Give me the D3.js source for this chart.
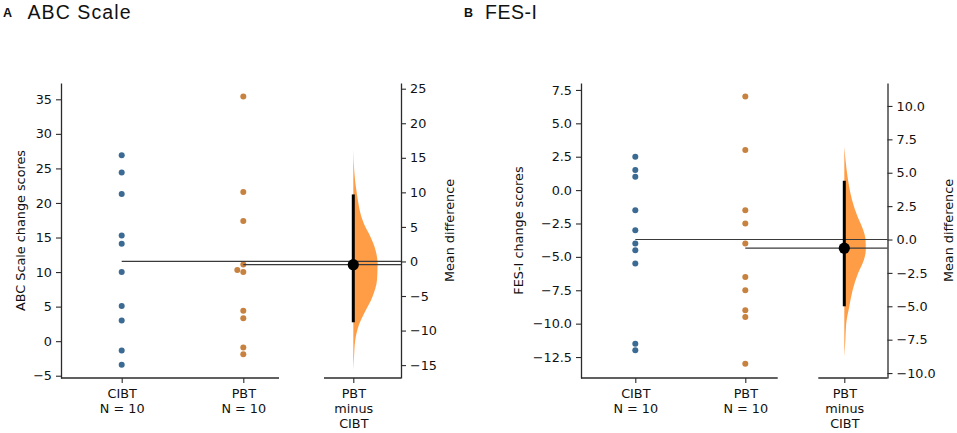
<!DOCTYPE html>
<html>
<head>
<meta charset="utf-8">
<script src="https://cdn.jsdelivr.net/npm/d3@7"></script>
<style>
  body { margin: 0; background: #fff; }
  svg text { font-family: "DejaVu Sans", sans-serif; fill: #111; }
</style>
</head>
<body>
<div class="canvas"></div>
<script>
// groups shown on the x axis
const groups = ['CIBT', 'PBT'];
const xLabels = ['CIBT\nN = 10', 'PBT\nN = 10', 'PBT\nminus\nCIBT'];

// ABC Scale change scores
const abcCIBT = [26.9, 24.4, 21.3, 15.3, 14.1, 10.0, 5.1, 3.0, -1.35, -3.4];
const abcPBT  = [35.4, 21.6, 17.4, 11.1, 10.3, 10.0, 4.4, 3.3, -0.9, -1.9];
const abcCI   = [-8.8, 9.7];
// bootstrap distribution of the mean difference (relative width)
const abcDistDiff  = [16.2, 13.0, 9.7, 5.6, 3.6, 1.7, -0.3, -2.7, -5.1, -7.5, -9.4, -11.4, -13.8, -15.7];
const abcDistWidth = [0, 0.04, 0.15, 0.42, 0.70, 0.91, 1, 0.975, 0.79, 0.45, 0.21, 0.08, 0.03, 0];
const abcTicks     = [-5, 0, 5, 10, 15, 20, 25, 30, 35];
const abcDiffTicks = [-15, -10, -5, 0, 5, 10, 15, 20, 25];

// FES-I change scores
const fesCIBT = [2.5, 1.5, 1.0, -1.5, -3.0, -4.0, -4.5, -5.5, -11.5, -12.0];
const fesPBT  = [7.0, 3.0, -1.5, -2.5, -4.0, -6.5, -7.5, -9.0, -9.5, -13.0];
const fesCI   = [-5.0, 4.4];
const fesDistDiff  = [6.95, 5.45, 4.2, 2.96, 1.7, 0.71, -0.04, -0.79, -1.53, -2.53, -3.78, -5.03, -6.27, -7.52, -8.77];
const fesDistWidth = [0, 0.09, 0.2, 0.36, 0.62, 0.88, 0.99, 1, 0.91, 0.64, 0.39, 0.23, 0.09, 0.05, 0];
const fesTicks     = [-12.5, -10, -7.5, -5, -2.5, 0, 2.5, 5, 7.5];
const fesDiffTicks = [-10, -7.5, -5, -2.5, 0, 2.5, 5, 7.5, 10];

const colors = { CIBT: '#3b6a93', PBT: '#c8823f' };
const violinColor = '#ff9d47';
const axisColor = '#2b2b2b';

const svg = d3.select('.canvas')
  .append('svg')
  .attr('width', 957)
  .attr('height', 433);

// layout of each panel (pixel positions of spines and columns)
const panels = [
  {
    letter: 'A', title: 'ABC Scale', titleX: 27.5, titleLen: 103, letterX: 3,
    ylabel: 'ABC Scale change scores', ylabelX: 25, rlabelX: 454,
    left: 61, seg1: 279, seg2: 324, right: 401, top: 83, bottom: 378,
    yDomain: [-5.33, 37.36], catX: [121.7, 243.3, 353.3], violinW: 24.3,
    a: abcCIBT, b: abcPBT, ci: abcCI, dist: abcDistDiff, distW: abcDistWidth,
    ticks: abcTicks, diffTicks: abcDiffTicks, fmt: d3.format('d')
  },
  {
    letter: 'B', title: 'FES-I', titleX: 485, titleLen: 52, letterX: 464,
    ylabel: 'FES-I change scores', ylabelX: 523, rlabelX: 953,
    left: 581, seg1: 777.7, seg2: 818.3, right: 887.5, top: 83, bottom: 378,
    yDomain: [-14.07, 8.02], catX: [635.3, 745.3, 844.3], violinW: 21.5,
    a: fesCIBT, b: fesPBT, ci: fesCI, dist: fesDistDiff, distW: fesDistWidth,
    ticks: fesTicks, diffTicks: fesDiffTicks, fmt: d3.format('.1f')
  }
];

// simple beeswarm: push a dot sideways when it would overlap an earlier one
const swarm = (values, y, r) => {
  const placed = [];
  const order = values.map((v, i) => i).sort((i, j) => values[i] - values[j]);
  const offsets = new Array(values.length).fill(0);
  order.forEach(i => {
    const py = y(values[i]);
    const tries = [0];
    for (let k = 1; k < 6; k++) tries.push(-k * 2 * r, k * 2 * r);
    for (const dx of tries) {
      const hit = placed.some(p => Math.hypot(p.dx - dx, p.y - py) < 2 * r + 0.2);
      if (!hit) { offsets[i] = dx; placed.push({ dx, y: py }); break; }
    }
  });
  return offsets;
};

panels.forEach(p => {
  const g = svg.append('g');

  // titles
  g.append('text')
    .attr('x', p.letterX).attr('y', 17)
    .style('font-family', '"Liberation Sans", Arial, sans-serif')
    .style('font-weight', 'bold').style('font-size', '12.5px')
    .attr('textLength', 11.7)
    .text(p.letter);
  g.append('text')
    .attr('x', p.titleX).attr('y', 19.3)
    .style('font-family', '"Liberation Sans", Arial, sans-serif')
    .style('font-size', '19.5px')
    .attr('textLength', p.titleLen)
    .text(p.title);

  // scales
  const y = d3.scaleLinear().domain(p.yDomain).range([p.bottom, p.top]);
  const meanA = d3.mean(p.a);
  const meanB = d3.mean(p.b);
  const meanDiff = meanB - meanA;
  // difference axis has its zero at the control group mean
  const yR = d3.scaleLinear()
    .domain([p.yDomain[0] - meanA, p.yDomain[1] - meanA])
    .range([p.bottom, p.top]);
  const x = d3.scaleOrdinal().domain(['CIBT', 'PBT', 'diff']).range(p.catX);

  // axes
  const yAxis = d3.axisLeft(y).tickValues(p.ticks).tickFormat(p.fmt)
    .tickSize(5).tickPadding(4).tickSizeOuter(0);
  const rAxis = d3.axisRight(yR).tickValues(p.diffTicks).tickFormat(p.fmt)
    .tickSize(5).tickPadding(4).tickSizeOuter(0);
  const xAxis = d3.axisBottom(x).tickFormat((d, i) => xLabels[i])
    .tickSize(5).tickPadding(6).tickSizeOuter(0);

  const yAxisGroup = g.append('g').attr('transform', `translate(${p.left},0)`).call(yAxis);
  const rAxisGroup = g.append('g').attr('transform', `translate(${p.right},0)`).call(rAxis);
  const xAxisGroup = g.append('g').attr('transform', `translate(0,${p.bottom})`).call(xAxis);
  xAxisGroup.select('.domain').remove();

  // bottom spine is broken between the groups and the difference column
  [[p.left, p.seg1], [p.seg2, p.right]].forEach(s => {
    g.append('line')
      .attr('x1', s[0]).attr('x2', s[1])
      .attr('y1', p.bottom).attr('y2', p.bottom)
      .attr('stroke', axisColor).attr('stroke-width', 1.3);
  });

  [yAxisGroup, rAxisGroup, xAxisGroup].forEach(ax => {
    ax.selectAll('.domain').attr('stroke', axisColor).attr('stroke-width', 1.3);
    ax.selectAll('.tick line').attr('stroke', axisColor).attr('stroke-width', 1.1);
    ax.selectAll('text').style('font-size', '12.8px').style('font-family', '"DejaVu Sans", sans-serif').attr('fill', '#111');
  });

  // multi-line x tick labels
  xAxisGroup.selectAll('.tick text').each(function(d, i) {
    const t = d3.select(this);
    const lines = xLabels[i].split('\n');
    t.text(null);
    lines.forEach((l, k) => {
      t.append('tspan').attr('x', 0).attr('dy', k === 0 ? '0.71em' : '15px').text(l);
    });
  });

  // axis labels
  g.append('text')
    .attr('transform', `translate(${p.ylabelX},${(p.top + p.bottom) / 2}) rotate(-90)`)
    .attr('text-anchor', 'middle').style('font-size', '12.8px')
    .text(p.ylabel);
  g.append('text')
    .attr('transform', `translate(${p.rlabelX},${(p.top + p.bottom) / 2}) rotate(-90)`)
    .attr('text-anchor', 'middle').style('font-size', '12.8px')
    .text('Mean difference');

  // raw data swarms
  const r = 3;
  [['CIBT', p.a], ['PBT', p.b]].forEach(([grp, vals]) => {
    const offs = swarm(vals, y, r);
    g.selectAll(null)
      .data(vals)
      .enter()
      .append('circle')
      .attr('cx', (d, i) => x(grp) + offs[i])
      .attr('cy', d => y(d))
      .attr('r', r)
      .attr('fill', colors[grp]);
  });

  // half violin of the bootstrap distribution
  const xc = x('diff');
  const dist = p.dist.map((d, i) => ({ diff: d, w: p.distW[i] }));
  const area = d3.area()
    .y(d => yR(d.diff))
    .x0(xc)
    .x1(d => xc + d.w * p.violinW)
    .curve(d3.curveMonotoneY);
  g.append('path')
    .datum(dist)
    .attr('d', area)
    .attr('fill', violinColor);

  // group mean reference lines
  [['CIBT', meanA], ['PBT', meanB]].forEach(([grp, m]) => {
    g.append('line')
      .attr('x1', x(grp)).attr('x2', p.right)
      .attr('y1', y(m)).attr('y2', y(m))
      .attr('stroke', '#3a3a3a').attr('stroke-width', 1.2);
  });

  // confidence interval and mean difference
  g.append('line')
    .attr('x1', xc).attr('x2', xc)
    .attr('y1', yR(p.ci[0])).attr('y2', yR(p.ci[1]))
    .attr('stroke', '#000').attr('stroke-width', 3);
  g.append('circle')
    .attr('cx', xc).attr('cy', yR(meanDiff))
    .attr('r', 5.6)
    .attr('fill', '#000');
});
</script>
</body>
</html>
